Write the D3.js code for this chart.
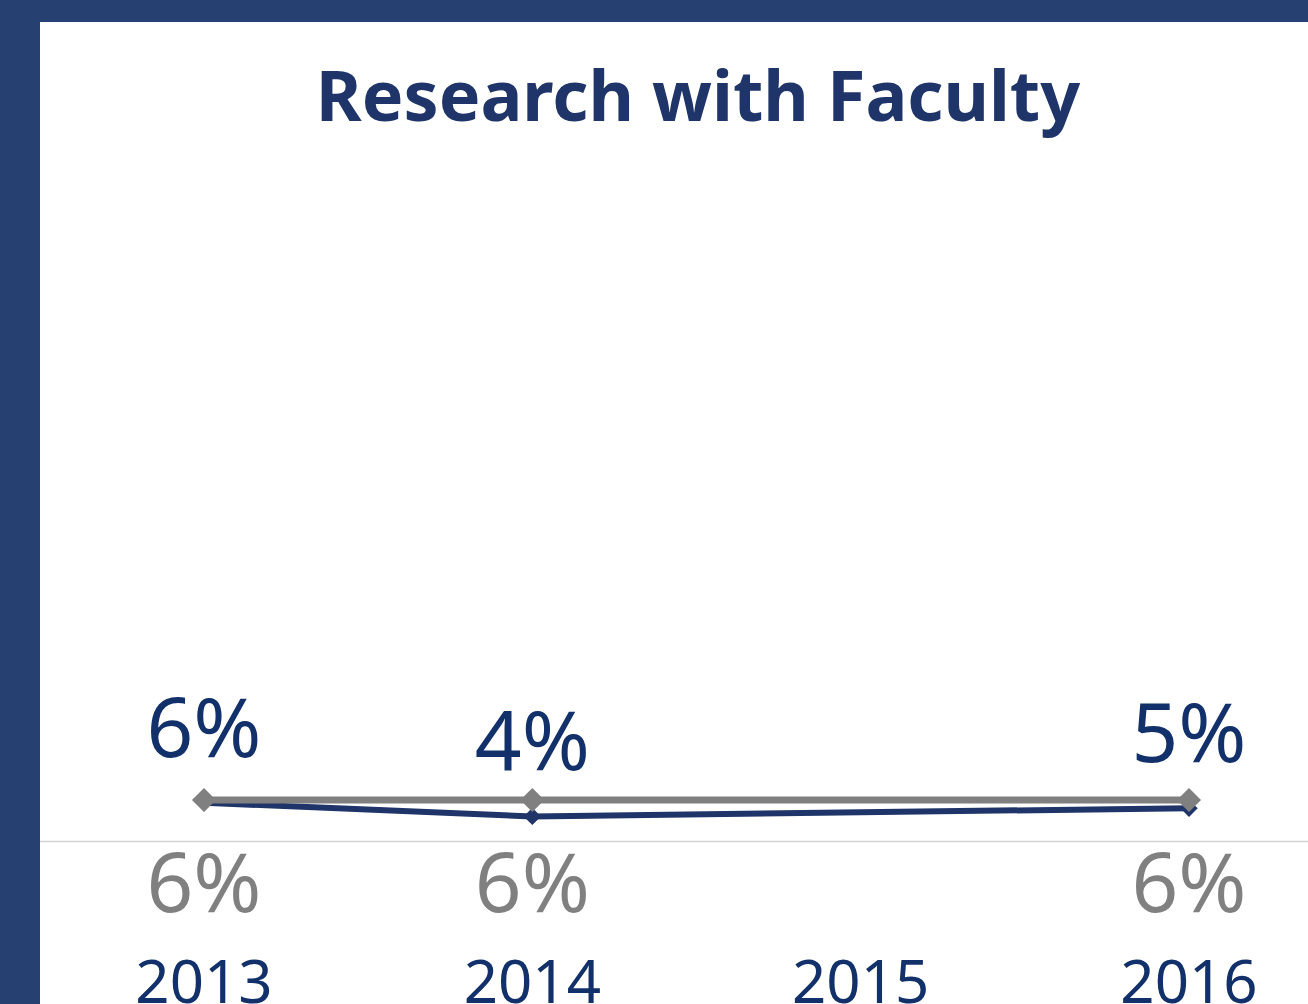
<!DOCTYPE html>
<html>
<head>
<meta charset="utf-8">
<script src="https://cdn.jsdelivr.net/npm/d3@7"></script>
<style>
  body { margin: 0; background: #fff; }
  svg { display: block; }
</style>
</head>
<body>
<div id="chart"></div>
<script>
// Chart data
const years = ["2013", "2014", "2015", "2016"];
const topSeries = [0.056, 0.036, null, 0.048];   // navy, labels above
const baseSeries = [0.06, 0.06, null, 0.06];     // gray, labels below
const chartTitle = "Research with Faculty";

// Canvas
const svgWidth = 1308;
const svgHeight = 1004;

const navy = "#1f3468";
const navyText = "#12306a";
const gray = "#808080";
const font = "'Noto Sans', 'Open Sans', sans-serif";

const svg = d3.select("#chart")
              .append("svg")
              .attr("width", svgWidth)
              .attr("height", svgHeight);

// Frame
svg.append("rect").attr("width", svgWidth).attr("height", svgHeight).attr("fill", "#fff");
svg.append("rect").attr("x", 0).attr("y", 0).attr("width", svgWidth).attr("height", 22).attr("fill", "#274072");
svg.append("rect").attr("x", 0).attr("y", 0).attr("width", 40).attr("height", svgHeight).attr("fill", "#274072");

// Scales
const xScale = d3.scalePoint()
                 .domain(years)
                 .range([204, 1189]);

const yScale = d3.scaleLinear()
                 .domain([0, 1])
                 .range([841, 158]);

// Title
svg.append("text")
   .attr("x", 698)
   .attr("y", 121)
   .attr("text-anchor", "middle")
   .style("font-family", font)
   .style("font-weight", "bold")
   .style("font-size", "70px")
   .attr("fill", navy)
   .text(chartTitle);

// Category axis line
svg.append("line")
   .attr("x1", 40).attr("x2", svgWidth)
   .attr("y1", yScale(0) + 0.5).attr("y2", yScale(0) + 0.5)
   .attr("stroke", "#d2d2d2")
   .attr("stroke-width", 1.5);

// Year labels
svg.append("g")
   .selectAll("text")
   .data(years)
   .enter()
   .append("text")
   .attr("x", d => xScale(d))
   .attr("y", 1003)
   .attr("text-anchor", "middle")
   .style("font-family", font)
   .style("font-size", "60px")
   .attr("fill", navyText)
   .text(d => d);

const fmt = d3.format(".0%");

function drawSeries(values, color, width, markerSize) {
    const pts = years.map((y, i) => ({ year: y, value: values[i] }))
                     .filter(d => d.value !== null);

    const line = d3.line()
                   .x(d => xScale(d.year))
                   .y(d => yScale(d.value));

    svg.append("path")
       .datum(pts)
       .attr("d", line)
       .attr("fill", "none")
       .attr("stroke", color)
       .attr("stroke-width", width)
       .attr("stroke-linejoin", "round");

    svg.append("g")
       .selectAll("path")
       .data(pts)
       .enter()
       .append("path")
       .attr("transform", d => `translate(${xScale(d.year)}, ${yScale(d.value)}) rotate(45)`)
       .attr("d", d3.symbol().type(d3.symbolSquare).size(markerSize))
       .attr("fill", color);

    return pts;
}

// Navy series first, gray drawn over it
const topPts = drawSeries(topSeries, navy, 6, 150);
const basePts = drawSeries(baseSeries, gray, 7, 290);

// Data labels
svg.append("g")
   .selectAll("text")
   .data(topPts)
   .enter()
   .append("text")
   .attr("x", d => xScale(d.year))
   .attr("y", d => yScale(d.value) - 46)
   .attr("text-anchor", "middle")
   .style("font-family", font)
   .style("font-size", "82px")
   .attr("fill", navyText)
   .text(d => fmt(d.value));

svg.append("g")
   .selectAll("text")
   .data(basePts)
   .enter()
   .append("text")
   .attr("x", d => xScale(d.year))
   .attr("y", d => yScale(d.value) + 112)
   .attr("text-anchor", "middle")
   .style("font-family", font)
   .style("font-size", "82px")
   .attr("fill", gray)
   .text(d => fmt(d.value));
</script>
</body>
</html>
